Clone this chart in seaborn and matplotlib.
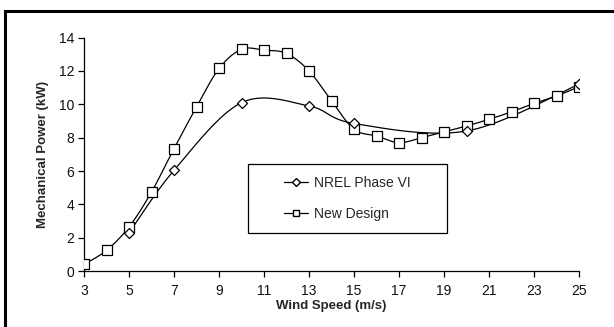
import numpy as np
import pandas as pd
import seaborn as sns
import matplotlib.pyplot as plt
from matplotlib.lines import Line2D
from matplotlib.patches import Rectangle

# wind speed (m/s) and mechanical power (kW)
new_speed = [3, 4, 5, 6, 7, 8, 9, 10, 11, 12, 13, 14, 15, 16, 17, 18, 19, 20, 21, 22, 23, 24, 25]
new_power = [0.4, 1.25, 2.65, 4.75, 7.35, 9.85, 12.15, 13.3, 13.25, 13.05, 12.0, 10.2, 8.5, 8.1, 7.7, 8.0,
             8.35, 8.7, 9.1, 9.55, 10.05, 10.5, 11.05]
nrel_speed = [5, 7, 10, 13, 15, 20, 25]
nrel_power = [2.3, 6.05, 10.1, 9.9, 8.85, 8.4, 11.2]
x_ticks = list(range(3, 26, 2))
y_ticks = list(range(0, 15, 2))


def smooth(xs, ys, n=24):
    # Excel-style smoothed line: bezier with control points from neighbours
    p = np.column_stack([xs, ys]).astype(float)
    p = np.vstack([p[0], p, p[-1]])
    out = []
    t = np.linspace(0, 1, n)[:, None]
    for i in range(1, len(p) - 2):
        a, b = p[i], p[i + 1]
        c1 = a + (p[i + 1] - p[i - 1]) / 6
        c2 = b - (p[i + 2] - p[i]) / 6
        seg = (1 - t) ** 3 * a + 3 * (1 - t) ** 2 * t * c1 + 3 * (1 - t) * t ** 2 * c2 + t ** 3 * b
        out.append(seg if i == 1 else seg[1:])
    out = np.vstack(out)
    return out[:, 0], out[:, 1]


sns.set_style("white")
plt.rcParams['font.family'] = ['Liberation Sans', 'DejaVu Sans']

fig = plt.figure(figsize=(6.14, 3.27), dpi=100)
ax = fig.add_axes([0.137, 0.171, 0.806, 0.714])

nx, ny = smooth(nrel_speed, nrel_power)
dx, dy = smooth(new_speed, new_power)
sns.lineplot(x=nx, y=ny, sort=False, estimator=None, color='black', linewidth=0.9, ax=ax)
sns.lineplot(x=dx, y=dy, sort=False, estimator=None, color='black', linewidth=0.9, ax=ax)
sns.scatterplot(x=new_speed, y=new_power, marker='s', s=42, facecolor='white', edgecolor='black',
                linewidth=0.9, ax=ax, zorder=3)
sns.scatterplot(x=nrel_speed, y=nrel_power, marker='D', s=26, facecolor='white', edgecolor='black',
                linewidth=0.9, ax=ax, zorder=4)

ax.set_xlim(3, 25)
ax.set_ylim(0, 14)
ax.set_xticks(x_ticks)
ax.set_yticks(y_ticks)
ax.tick_params(axis='both', direction='out', length=4, width=0.9, color='black',
               labelsize=10, labelcolor='#111111', pad=3, left=True, bottom=True)
ax.tick_params(axis='x', pad=5)
for side in ['top', 'right']:
    ax.spines[side].set_visible(False)
for side in ['left', 'bottom']:
    ax.spines[side].set_color('black')
    ax.spines[side].set_linewidth(0.9)
ax.set_xlabel('Wind Speed (m/s)', fontsize=9.5, fontweight='bold', labelpad=2)
ax.set_ylabel('Mechanical Power (kW)', fontsize=9.5, fontweight='bold', labelpad=7)

handles = [
    Line2D([0], [0], color='black', linewidth=0.9, marker='D', markersize=4,
           markerfacecolor='white', markeredgecolor='black'),
    Line2D([0], [0], color='black', linewidth=0.9, marker='s', markersize=5,
           markerfacecolor='white', markeredgecolor='black'),
]
ax.add_patch(Rectangle((0.331, 0.163), 0.402, 0.296, transform=ax.transAxes, fill=True,
                       facecolor='white', edgecolor='black', linewidth=0.9, zorder=5))
leg = ax.legend(handles, ['NREL Phase VI', 'New Design'], loc='center', bbox_to_anchor=(0.532, 0.311),
                frameon=False, fontsize=10, handlelength=1.75, handletextpad=0.4, labelspacing=1.25)
leg.set_zorder(6)

# outer chart frame (only left and top edges fall inside the picture)
fig.add_artist(Rectangle((5 / 614, -0.2), 1.2, 1.2 - 11 / 327, transform=fig.transFigure,
                         fill=False, edgecolor='black', linewidth=2.2))

fig.savefig('out.png', dpi=100)
